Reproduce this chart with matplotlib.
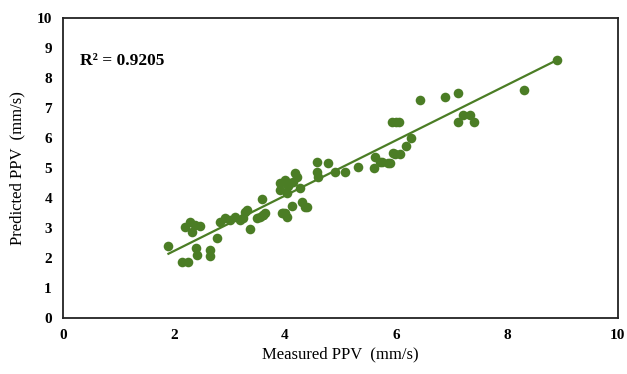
import numpy as np
import matplotlib.pyplot as plt

plt.rcParams['font.family'] = ['Liberation Serif', 'DejaVu Serif']

# measured vs predicted PPV (mm/s)
measured = [1.90, 2.15, 2.25, 2.20, 2.29, 2.38, 2.32, 2.46, 2.40, 2.42,
            2.65, 2.64, 2.77, 2.83, 2.92, 3.01, 3.10, 3.19, 3.28, 3.25,
            3.37, 3.49, 3.61, 3.58, 3.31, 3.55, 3.64, 3.97, 3.91, 4.00,
            4.09, 3.91, 4.03, 4.18, 4.21, 4.27, 4.12, 4.00, 3.94, 4.03,
            4.30, 4.39, 4.36, 3.61, 4.57, 4.78, 4.57, 4.60, 4.90, 5.08,
            5.32, 5.62, 5.61, 5.74, 5.86, 5.95, 5.71, 5.89, 5.98, 6.08,
            6.19, 6.28, 5.93, 6.00, 6.06, 6.43, 6.88, 7.11, 7.11, 7.21,
            7.33, 7.41, 8.31, 8.91, 4.05, 4.15]
predicted = [2.40, 1.88, 1.88, 3.04, 3.19, 3.10, 2.88, 3.07, 2.32, 2.10,
             2.27, 2.07, 2.66, 3.21, 3.32, 3.27, 3.38, 3.27, 3.54, 3.32,
             2.96, 3.32, 3.43, 3.96, 3.60, 3.38, 3.49, 3.49, 4.49, 4.60,
             4.49, 4.27, 4.16, 4.82, 4.71, 4.32, 3.73, 3.49, 3.49, 3.38,
             3.88, 3.71, 3.71, 3.43, 5.21, 5.16, 4.88, 4.71, 4.88, 4.88,
             5.04, 5.38, 4.99, 5.21, 5.16, 5.49, 5.21, 5.16, 5.47, 5.47,
             5.73, 5.99, 6.54, 6.54, 6.54, 7.27, 7.36, 7.51, 6.54, 6.77,
             6.77, 6.54, 7.60, 8.60, 4.40, 4.55]

# trend line as drawn in the picture
trend_slope = 0.922
trend_intercept = 0.39

green = '#4b7d25'

fig = plt.figure(figsize=(6.27, 3.74), dpi=100)
ax = fig.add_axes([0.1005, 0.1497, 0.885, 0.8022])

ax.scatter(measured, predicted, s=48, color=green, zorder=3, linewidths=0)

xs = np.array([min(measured), max(measured)])
ax.plot(xs, trend_slope * xs + trend_intercept, color=green, lw=1.6, zorder=2)

ax.set_xlim(0, 10)
ax.set_ylim(0, 10)
ax.set_xticks(range(0, 11, 2))
ax.set_yticks(range(0, 11))
ax.tick_params(length=0, labelsize=11, pad=8)
for lab in ax.get_xticklabels() + ax.get_yticklabels():
    lab.set_fontweight('bold')

for s in ax.spines.values():
    s.set_linewidth(1.3)
    s.set_color('#222222')

ax.set_xlabel('Measured PPV  (mm/s)', fontsize=12, labelpad=3)
ax.set_ylabel('Predicted PPV  (mm/s)', fontsize=12, labelpad=8)
ax.text(0.3, 8.57, 'R² = 0.9205', fontsize=12.5, fontweight='bold', va='center')

fig.savefig('out.png', dpi=100)
